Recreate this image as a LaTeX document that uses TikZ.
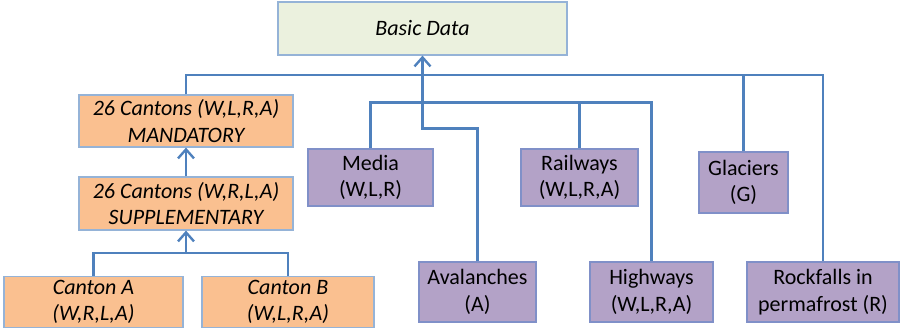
\documentclass[tikz,border=0pt]{standalone}
\usepackage{fontspec}
\setmainfont{Carlito}
\usepackage{xcolor}
\usetikzlibrary{arrows.meta}
\definecolor{linkblue}{HTML}{4F81BD}
\definecolor{edgeblue}{HTML}{95B3D7}
\definecolor{basicfill}{HTML}{EBF1DE}
\definecolor{cantonfill}{HTML}{FAC090}
\definecolor{sourcefill}{HTML}{B3A2C7}
\definecolor{sourceedge}{HTML}{8090C8}
\tikzset{
	>={Straight Barb[length=9pt,width=16pt,line width=2.4pt]},
	box/.style={draw, line width=1.2pt, align=center, inner sep=0pt,
			font=\fontsize{22}{26.5}\selectfont},
	basicbox/.style={box, draw=edgeblue, fill=basicfill, font=\fontsize{22}{26.5}\selectfont\itshape},
	cantonbox/.style={box, draw=edgeblue, fill=cantonfill, font=\fontsize{22}{26.5}\selectfont\itshape},
	sourcebox/.style={box, draw=sourceedge, fill=sourcefill},
	link/.style={draw=linkblue, line width=2.6pt}
}
\begin{document}
\begin{tikzpicture}[x=1pt,y=-1pt]
		\useasboundingbox (0,0) rectangle (900,329);

		% Basic data
		\node[basicbox, minimum width=289pt, minimum height=53pt] (basic) at (422.5,28.5) {Basic Data};

		% Cantons
		\node[cantonbox, minimum width=214pt, minimum height=52pt] (mand) at (186,121) {26 Cantons (W,L,R,A)\\MANDATORY};
		\node[cantonbox, minimum width=214pt, minimum height=53pt] (supp) at (186,203.5) {26 Cantons (W,R,L,A)\\SUPPLEMENTARY};
		\node[cantonbox, minimum width=179pt, minimum height=51pt] (canta) at (93.5,302) {Canton A\\(W,R,L,A)};
		\node[cantonbox, minimum width=172pt, minimum height=51pt] (cantb) at (288,302) {Canton B\\(W,L,R,A)};

		% Other sources
		\node[sourcebox, minimum width=125pt, minimum height=57pt] (media) at (370.5,177.5) {Media\\(W,L,R)};
		\node[sourcebox, minimum width=117pt, minimum height=57pt] (rail) at (579.5,177.5) {Railways\\(W,L,R,A)};
		\node[sourcebox, minimum width=89pt, minimum height=61pt] (glac) at (743.5,182.5) {Glaciers\\(G)};
		\node[sourcebox, minimum width=117pt, minimum height=60pt] (aval) at (477.5,292) {Avalanches\\(A)};
		\node[sourcebox, minimum width=123pt, minimum height=60pt] (high) at (651.5,292) {Highways\\(W,L,R,A)};
		\node[sourcebox, minimum width=152pt, minimum height=60pt] (rock) at (823,292) {Rockfalls in\\permafrost (R)};

		\coordinate (busa) at (0,75);
		\coordinate (busb) at (0,102.5);
		\coordinate (busc) at (0,128.5);
		\coordinate (busd) at (0,253);

		% Connectors
		\draw[link] (mand.north) |- (busa -| rock.north) -- (rock.north);
		\draw[link] (glac.north) -- (glac.north |- busa);
		\draw[link] (media.north) |- (busb -| high.north) -- (high.north);
		\draw[link] (rail.north) -- (rail.north |- busb);
		\draw[link,->] (aval.north) |- (busc -| basic.south) -- (basic.south);
		\draw[link,->] (supp.north) -- (mand.south);
		\draw[link] (canta.north) |- (busd -| cantb.north) -- (cantb.north);
		\draw[link,->] (busd -| supp.south) -- (supp.south);
	\end{tikzpicture}
\end{document}
